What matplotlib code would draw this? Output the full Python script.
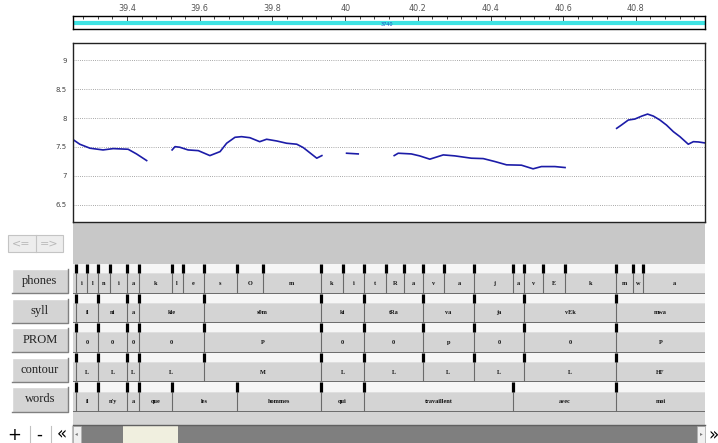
import numpy as np
import matplotlib
matplotlib.use('Agg')
import matplotlib.pyplot as plt
from matplotlib.patches import Rectangle

W, H = 718, 443
t_lo, t_hi = 39.25, 40.99

# ruler
ruler_major = [39.4, 39.6, 39.8, 40.0, 40.2, 40.4, 40.6, 40.8]
ruler_labels = ['39.4', '39.6', '39.8', '40', '40.2', '40.4', '40.6', '40.8']
sel_label = '3740'

# pitch curve (nan = break)
nan = np.nan
pitch_t = [39.249, 39.270, 39.298, 39.334, 39.362, 39.403, 39.426, 39.454, nan,
           39.524, 39.532, 39.545, 39.568, 39.596, 39.628, 39.656, 39.674, 39.697,
           39.715, 39.738, 39.765, 39.784, 39.812, 39.839, 39.867, 39.885, 39.908,
           39.922, 39.936, nan,
           40.004, 40.036, nan,
           40.135, 40.146, 40.182, 40.205, 40.233, 40.270, 40.302, 40.347, 40.380,
           40.412, 40.444, 40.485, 40.517, 40.540, 40.577, 40.605, nan,
           40.747, 40.760, 40.779, 40.797, 40.816, 40.832, 40.848, 40.866, 40.884,
           40.903, 40.921, 40.944, 40.958, 40.972, 40.990]
pitch_v = [7.638, 7.547, 7.478, 7.448, 7.471, 7.460, 7.379, 7.264, nan,
           7.448, 7.505, 7.495, 7.448, 7.436, 7.350, 7.419, 7.564, 7.667,
           7.678, 7.660, 7.591, 7.633, 7.603, 7.564, 7.547, 7.488, 7.374,
           7.305, 7.350, nan,
           7.391, 7.379, nan,
           7.350, 7.391, 7.379, 7.345, 7.288, 7.362, 7.345, 7.305, 7.298,
           7.247, 7.190, 7.184, 7.121, 7.160, 7.160, 7.143, nan,
           7.822, 7.879, 7.966, 7.983, 8.034, 8.069, 8.034, 7.966, 7.879,
           7.764, 7.678, 7.547, 7.591, 7.586, 7.569]
y_ticks = [6.5, 7, 7.5, 8, 8.5, 9]
y_labels = ['6.5', '7', '7.5', '8', '8.5', '9']

# tiers
phone_bounds = [39.261, 39.290, 39.320, 39.352, 39.401, 39.432, 39.523, 39.553,
                39.612, 39.702, 39.773, 39.933, 39.993, 40.053, 40.113, 40.163,
                40.213, 40.273, 40.355, 40.463, 40.492, 40.543, 40.604, 40.745,
                40.793, 40.819, 40.990]
phones = ['i', 'l', 'n', 'i', 'a', 'k', 'l', 'e', 's', 'O', 'm', 'k', 'i', 't',
          'R', 'a', 'v', 'a', 'j', 'a', 'v', 'E', 'k', 'm', 'w', 'a']
syll_bounds = [39.261, 39.320, 39.401, 39.432, 39.612, 39.933, 40.053, 40.213,
               40.355, 40.492, 40.745, 40.990]
syll = ['il', 'ni', 'a', 'kle', 's0m', 'ki', 'tRa', 'va', 'ja', 'vEk', 'mwa']
prom = ['0', '0', '0', '0', 'P', '0', '0', 'p', '0', '0', 'P']
contour = ['L', 'L', 'L', 'L', 'M', 'L', 'L', 'L', 'L', 'L', 'HF']
word_bounds = [39.261, 39.320, 39.401, 39.432, 39.523, 39.702, 39.933, 40.053,
               40.463, 40.745, 40.990]
words = ['il', "n'y", 'a', 'que', 'les', 'hommes', 'qui', 'travaillent',
         'avec', 'moi']
tier_names = ['phones', 'syll', 'PROM', 'contour', 'words']
tiers = [(phone_bounds, phones), (syll_bounds, syll), (syll_bounds, prom),
         (syll_bounds, contour), (word_bounds, words)]

fig = plt.figure(figsize=(W / 100, H / 100), dpi=100, facecolor='white')


def px_axes(x0, y0, x1, y1, **kw):
    return fig.add_axes([x0 / W, 1 - y1 / H, (x1 - x0) / W, (y1 - y0) / H], **kw)


# background layer in pixel coordinates (widgets)
bg = px_axes(0, 0, W, H)
bg.set_xlim(0, W)
bg.set_ylim(H, 0)
bg.axis('off')


def button(x0, y0, x1, y1, face='#d4d4d4'):
    bg.add_patch(Rectangle((x0, y0), x1 - x0, y1 - y0, fc=face, ec='none'))
    bg.plot([x0, x0, x1], [y1, y0, y0], color='white', lw=1)
    bg.plot([x0, x1, x1], [y1, y1, y0], color='#808080', lw=1)


# gray band under plot
bg.add_patch(Rectangle((72.5, 222), 632.5, 42, fc='#c8c8c8', ec='none'))
# <= => buttons
bg.add_patch(Rectangle((8, 235), 55, 17, fc='#ededed', ec='#c4c4c4', lw=0.8))
bg.plot([35.5, 35.5], [235, 252], color='#c4c4c4', lw=0.8)
bg.text(21.5, 243.5, '<=', color='#b8b8b8', fontsize=8, ha='center', va='center')
bg.text(49, 243.5, '=>', color='#b8b8b8', fontsize=8, ha='center', va='center')

# tier buttons
tier_top = 264.0
tier_h = 29.6
for i, name in enumerate(tier_names):
    y0 = tier_top + i * tier_h
    button(12, y0 + 5, 68, y0 + tier_h - 0.5)
    bg.text(40, y0 + 5 + (tier_h - 5.5) / 2, name, family='Liberation Serif',
            fontsize=9, color='#222222', ha='center', va='center')

# strip below tiers
bot = tier_top + 5 * tier_h
bg.add_patch(Rectangle((72.5, bot), 632.5, 425 - bot, fc='#d4d4d4', ec='none'))
bg.plot([72.5, 705], [425, 425], color='#606060', lw=1)

# bottom bar
for xs in [30, 51, 72]:
    bg.plot([xs, xs], [426, 443], color='#c0c0c0', lw=0.8)
bg.text(14, 435, '+', fontsize=12, ha='center', va='center', color='black')
bg.text(39.5, 435, '-', fontsize=12, ha='center', va='center', color='black')
bg.text(61.5, 434.5, '\u00ab', fontsize=12, ha='center', va='center', color='black')
bg.add_patch(Rectangle((72.5, 426), 632.5, 17, fc='#7f7f7f', ec='none'))
bg.add_patch(Rectangle((72.5, 426), 8, 17, fc='#f0f0f0', ec='#b0b0b0', lw=0.6))
bg.add_patch(Rectangle((697, 426), 8, 17, fc='#f0f0f0', ec='#b0b0b0', lw=0.6))
bg.add_patch(Rectangle((123, 426), 55, 17, fc='#f0efdf', ec='none'))
bg.text(76.5, 434, '\u25c2', fontsize=4, ha='center', va='center', color='#777777')
bg.text(701, 434, '\u25b8', fontsize=4, ha='center', va='center', color='#777777')
bg.text(713, 435, '\u00bb', fontsize=12, ha='center', va='center', color='black')

# ruler
ru = px_axes(72.5, 16, 705, 29)
ru.set_xlim(t_lo, t_hi)
ru.set_ylim(0, 1)
ru.axhline(0.45, color='#3fe3e3', lw=3.0)
ru.text(40.115, 0.35, sel_label, color='#1f4fbf', fontsize=4, ha='center',
        va='center', stretch='condensed')
ru.set_xticks(ruler_major)
ru.set_xticklabels(ruler_labels, family=['Liberation Sans Narrow', 'DejaVu Sans'],
                   stretch='condensed', fontsize=6.5, color='#555555')
ru.set_xticks(np.arange(39.28, 40.99, 0.04), minor=True)
ru.tick_params(axis='x', which='both', direction='in', top=True, bottom=False,
               labeltop=True, labelbottom=False, color='#444444', width=0.7)
ru.tick_params(axis='x', which='major', length=5, pad=2)
ru.tick_params(axis='x', which='minor', length=2.5)
ru.set_yticks([])
for s in ru.spines.values():
    s.set_linewidth(1)

# pitch plot
ax = px_axes(72.5, 43, 705, 222)
ax.set_xlim(t_lo, t_hi)
ax.set_ylim(6.2, 9.3)
for v in y_ticks:
    ax.axhline(v, color='#8c8c8c', lw=0.6, ls=(0, (1, 1.6)))
ax.plot(pitch_t, pitch_v, color='#1c1ca8', lw=1.2)
ax.set_xticks([])
ax.set_yticks(y_ticks)
ax.set_yticklabels(y_labels, fontsize=5, color='#444444')
ax.tick_params(axis='y', length=0, pad=4)
for s in ax.spines.values():
    s.set_linewidth(1)
    s.set_color('#222222')

# tiers
for i, (bounds, labels) in enumerate(tiers):
    y0 = tier_top + i * tier_h
    tx = px_axes(72.5, y0, 705, y0 + tier_h)
    tx.set_xlim(t_lo, t_hi)
    tx.set_ylim(0, 1)
    tx.axhspan(0, 0.69, color='#d4d4d4', lw=0)
    tx.axhspan(0.69, 1, color='#f6f6f6', lw=0)
    tx.axhline(0.0, color='#5a5a5a', lw=1.2)
    tx.axhline(0.69, color='#e2e2e2', lw=0.6)
    inner = [b for b in bounds if t_lo < b < t_hi - 0.005]
    tx.vlines(inner, 0, 0.69, color='#6a6a6a', lw=0.8)
    tx.vlines(inner, 0.69, 1, color='black', lw=2.3)
    for a, b, lab in zip(bounds[:-1], bounds[1:], labels):
        tx.text((a + b) / 2, 0.35, lab, family='Liberation Serif', weight='bold',
                fontsize=4.5, ha='center', va='center', color='#111111')
    tx.axis('off')

fig.savefig('out.png', dpi=100, facecolor='white')
